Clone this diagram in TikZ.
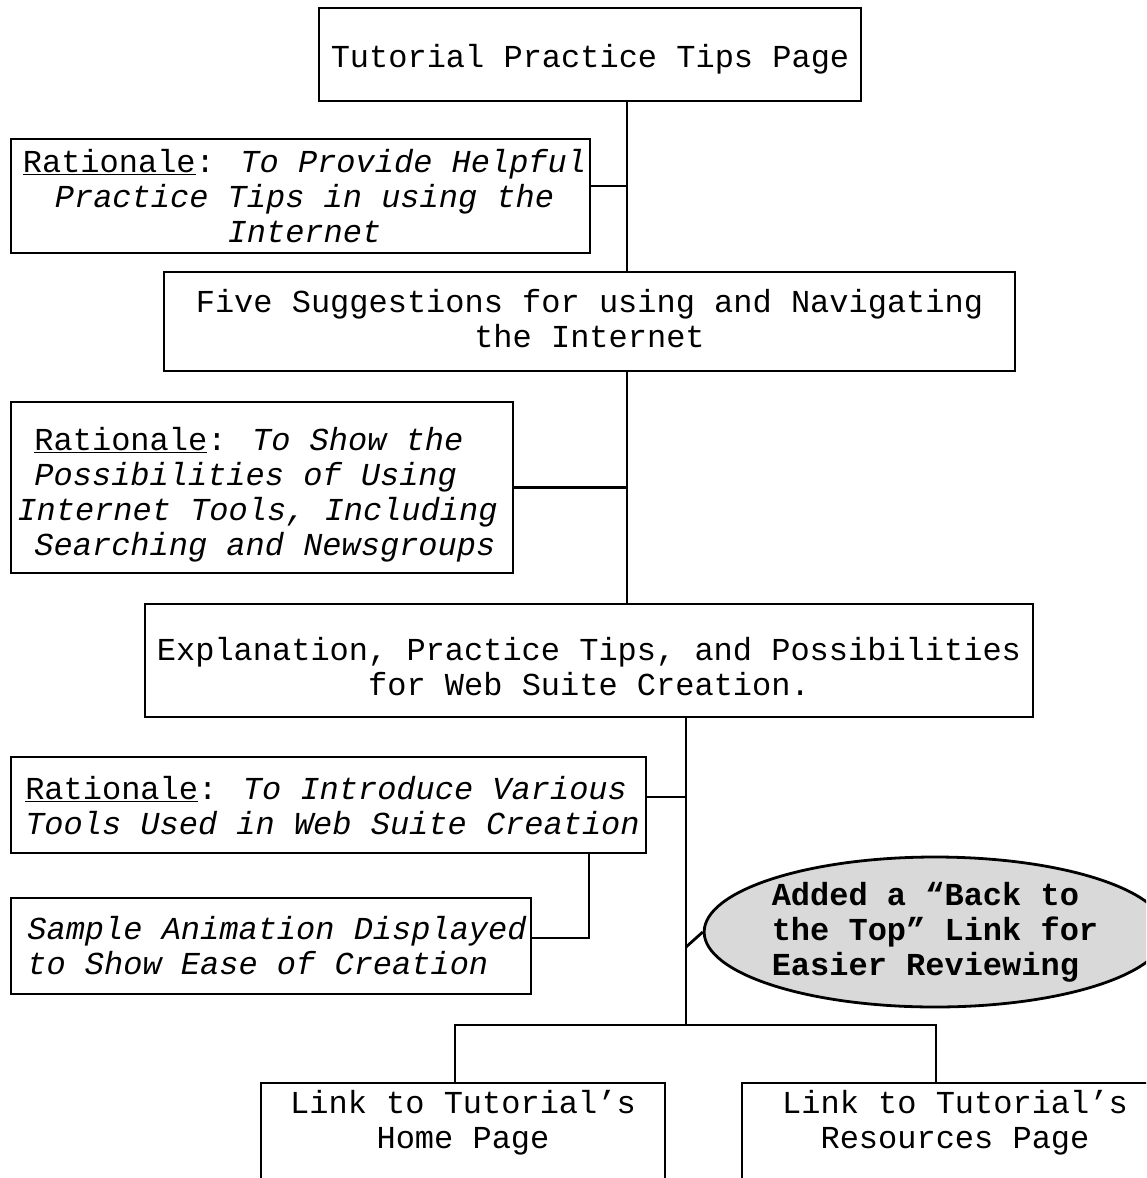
\documentclass[tikz,border=0pt]{standalone}
\usepackage{fontspec}
\setmainfont{Liberation Mono}
\usetikzlibrary{shapes.geometric,calc}
\begin{document}
\begin{tikzpicture}[x=1pt,y=-1pt,
  every node/.style={font=\fontsize{32}{35}\selectfont},
  box/.style={draw, line width=2.8pt, inner sep=0pt},
  txt/.style={inner sep=0pt, align=center},
  link/.style={line width=2.8pt}]
\useasboundingbox (0,0) rectangle (1146,1178);
\clip (0,0) rectangle (1146,1178);
\fill[white] (0,0) rectangle (1146,1178);

% boxes
\node[box, minimum width=542, minimum height=93] (top) at (590,54.5) {};
\node[box, minimum width=579, minimum height=114] (r1) at (300.5,196) {};
\node[box, minimum width=851, minimum height=99] (five) at (589.5,321.5) {};
\node[box, minimum width=502, minimum height=171] (r2) at (262,487.5) {};
\node[box, minimum width=888, minimum height=113] (exp) at (589,660.5) {};
\node[box, minimum width=635, minimum height=96] (r3) at (328.5,805) {};
\node[box, minimum width=520, minimum height=96] (samp) at (271,946) {};
\node[box, minimum width=404, minimum height=130] (home) at (463,1148) {};
\node[box, minimum width=426, minimum height=130] (res) at (955,1148) {};

% texts
\node[txt] (toptxt) at ($(top)+(0,5)$) {Tutorial Practice Tips Page};
\node[txt] (r1txt) at ($(r1)+(4,0)$)
  {\underline{Rationale}: \textit{To Provide Helpful}\\ \textit{Practice Tips in using the}\\ \textit{Internet}};
\node[txt] (fivetxt) at ($(five)+(0,-3)$)
  {Five Suggestions for using and Navigating\\the Internet};
\node[txt, align=left] (r2txt) at ($(r2)+(4,7)$)
  {\underline{Rationale}: \textit{To Show the}\\ \textit{Possibilities of Using}\\ \hspace*{-17pt}\textit{Internet Tools, Including}\\ \textit{Searching and Newsgroups}};
\node[txt] (exptxt) at ($(exp)+(0,6)$)
  {Explanation, Practice Tips, and Possibilities\\for Web Suite Creation.};
\node[txt, align=left] (r3txt) at ($(r3)+(4,1)$)
  {\underline{Rationale}: \textit{To Introduce Various}\\ \textit{Tools Used in Web Suite Creation}};
\node[txt, align=left] (samptxt) at ($(samp)+(6,0)$)
  {\textit{Sample Animation Displayed}\\ \textit{to Show Ease of Creation}};
\node[txt] (hometxt) at ($(home.north)+(0,41)$) {Link to Tutorial’s\\Home Page};
\node[txt] (restxt) at ($(res.north)+(0,41)$) {Link to Tutorial’s\\Resources Page};

\node[ellipse, draw, line width=2.8pt, fill=gray!30, inner sep=0pt, align=left,
  minimum width=426, minimum height=150] (note) at (935,932)
  {\textbf{Added a “Back to}\\ \textbf{the Top” Link for}\\ \textbf{Easier Reviewing}};

\coordinate (a1) at (627,0);
\coordinate (a3) at (686,0);
\coordinate (j) at (686,1025);
\coordinate (bl) at (455,1025);
\coordinate (br) at (936,1025);
\coordinate (tap) at (686,947);
\coordinate (dr) at (589,0);

\draw[link] (top.south -| a1) -- (five.north -| a1);
\draw[link] ($(r1.east)+(0,-10)$) -- ($(r1.east -| a1)+(0,-10)$);
\draw[link] (five.south -| a1) -- (exp.north -| a1);
\draw[link] (r2.east) -- (r2.east -| a1);
\draw[link] (exp.south -| a3) -- (j);
\draw[link] ($(r3.east)+(0,-8)$) -- ($(r3.east -| a3)+(0,-8)$);
\draw[link] (r3.south -| dr) |- ($(samp.east)+(0,-8)$);
\draw[link] (tap) -- (note.west);
\draw[link] (bl |- home.north) -- (bl) -- (br) -- (br |- res.north);
\end{tikzpicture}
\end{document}
